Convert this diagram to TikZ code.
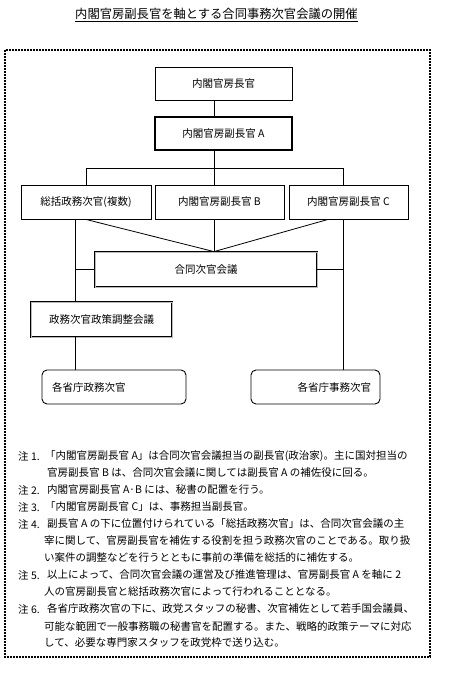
\documentclass[tikz,border=0pt]{standalone}
\usepackage{fontspec}
\newfontfamily\jpfont{Noto Sans CJK JP}
\usepackage{tikz}

\begin{document}
\begin{tikzpicture}[x=1pt,y=-1pt,
  every node/.style={font=\jpfont\fontsize{10.5}{12}\selectfont, inner sep=0pt},
  box/.style={draw=black, line width=0.9pt, minimum height=33pt},
  boldbox/.style={box, line width=1.5pt},
  meetbox/.style={draw=black, line width=0.8pt, double=gray!55, double distance=1pt, minimum height=35pt},
  endbox/.style={draw=black, line width=0.9pt, rounded corners=5pt, minimum height=34pt},
  noteline/.style={anchor=west},
  link/.style={line width=0.8pt}]
\useasboundingbox (0,0) rectangle (452,688);
\draw[line width=1.2pt, dash pattern=on 1.6pt off 1.4pt] (5,50) rectangle (430,657);

\node[font=\jpfont\fontsize{12.3}{14}\selectfont] (title) at (216.5,15) {\underline{内閣官房副長官を軸とする合同事務次官会議の開催}};

\node[box, minimum width=137pt] (chief) at (223.5,83.5) {内閣官房長官};
\node[boldbox, minimum width=137pt] (depA) at (223.5,133.5) {内閣官房副長官 A};
\node[box, minimum width=130pt, minimum height=34pt] (gen) at (86,202) {総括政務次官(複数)};
\node[box, minimum width=129pt, minimum height=34pt] (depB) at (219.5,202) {内閣官房副長官 B};
\node[box, minimum width=119pt, minimum height=34pt] (depC) at (348.5,202) {内閣官房副長官 C};
\node[meetbox, minimum width=222pt] (joint) at (206,269.5) {合同次官会議};
\node[meetbox, minimum width=141pt] (policy) at (101.5,319.5) {政務次官政策調整会議};
\node[endbox, text width=124pt, inner xsep=10pt, align=left] (vpol) at (114,387) {各省庁政務次官};
\node[endbox, text width=111pt, inner xsep=9pt, align=right] (vadm) at (315.5,387) {各省庁事務次官};

\coordinate (spine) at (214,168);
\coordinate (busL) at (86,168);
\coordinate (busR) at (343,168);
\coordinate (railL) at (75,269.5);

\draw[link] (chief.south -| spine) -- (depA.north -| spine);
\draw[link] (depA.south -| spine) -- (depB.north -| spine);
\draw[link] (busL) -- (busR);
\draw[link] (busL) -- (gen.north);
\draw[link] (busR) -- (depC.north -| busR);
\draw[link] (depB.south -| spine) -- (joint.north -| spine);
\draw[link] (gen.south) -- (joint.north -| spine);
\draw[link] ([xshift=-20.5pt]depC.south) -- (joint.north -| spine);
\draw[link] (gen.south -| railL) -- (policy.north -| railL);
\draw[link] (policy.south -| railL) -- (vpol.north -| railL);
\draw[link] (railL) -- (joint.west);
\draw[link] (joint.east) -- (joint.east -| busR);
\draw[link] (depC.south -| busR) -- (vadm.north -| busR);

\node[noteline] (n1) at (18,456) {注 1.};
\node[noteline] (n1a) at (45,456) {「内閣官房副長官 A」は合同次官会議担当の副長官(政治家)。主に国対担当の};
\node[noteline] (n1b) at (47,473) {官房副長官 B は、合同次官会議に関しては副長官 A の補佐役に回る。};
\node[noteline] (n2) at (18,490) {注 2.};
\node[noteline] (n2a) at (47,490) {内閣官房副長官 A·B には、秘書の配置を行う。};
\node[noteline] (n3) at (18,507) {注 3.};
\node[noteline] (n3a) at (45,507) {「内閣官房副長官 C」は、事務担当副長官。};
\node[noteline] (n4) at (18,524) {注 4.};
\node[noteline] (n4a) at (47,524) {副長官 A の下に位置付けられている「総括政務次官」は、合同次官会議の主};
\node[noteline] (n4b) at (44,541) {宰に関して、官房副長官を補佐する役割を担う政務次官のことである。取り扱};
\node[noteline] (n4c) at (44,558) {い案件の調整などを行うとともに事前の準備を総括的に補佐する。};
\node[noteline] (n5) at (18,575) {注 5.};
\node[noteline] (n5a) at (47,575) {以上によって、合同次官会議の運営及び推進管理は、官房副長官 A を軸に 2};
\node[noteline] (n5b) at (44,592) {人の官房副長官と総括政務次官によって行われることとなる。};
\node[noteline] (n6) at (18,609) {注 6.};
\node[noteline] (n6a) at (47,609) {各省庁政務次官の下に、政党スタッフの秘書、次官補佐として若手国会議員、};
\node[noteline] (n6b) at (44,626) {可能な範囲で一般事務職の秘書官を配置する。また、戦略的政策テーマに対応};
\node[noteline] (n6c) at (44,643) {して、必要な専門家スタッフを政党枠で送り込む。};
\end{tikzpicture}
\end{document}
